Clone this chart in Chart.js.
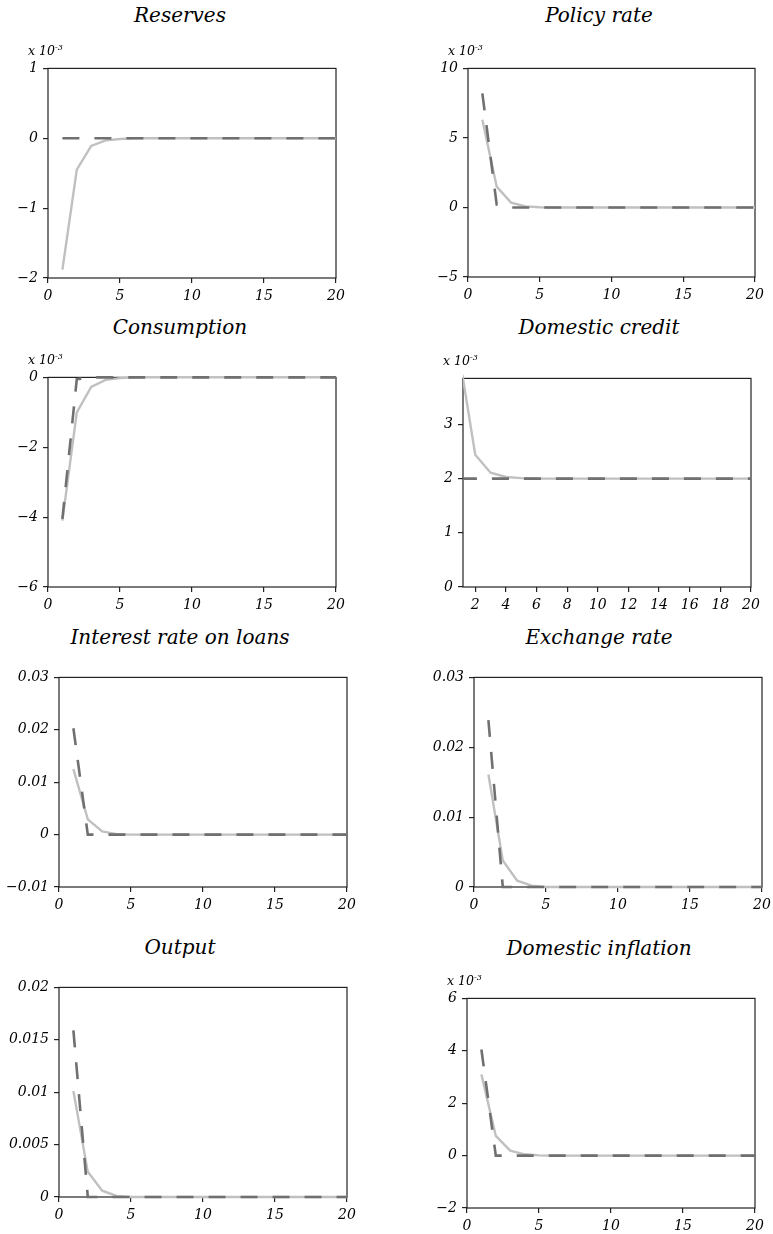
<!DOCTYPE html>
<html>
<head>
<meta charset="utf-8">
<title>Impulse responses</title>
<script src="https://cdn.jsdelivr.net/npm/chart.js@4.4.1/dist/chart.umd.min.js"></script>
<style>
  html, body { margin: 0; padding: 0; background: #fff; }
  body {
    position: relative;
    width: 773px;
    height: 1234px;
    overflow: hidden;
    font-family: "DejaVu Serif", serif;
    font-style: italic;
    color: #000;
  }
  canvas { position: absolute; }
  .title {
    position: absolute;
    width: 320px;
    margin-left: -160px;
    margin-top: -11px;
    text-align: center;
    font-size: 20px;
    line-height: 22px;
    white-space: nowrap;
  }
  .exp {
    position: absolute;
    margin-top: -8px;
    font-size: 12.5px;
    line-height: 16px;
    white-space: nowrap;
  }
  .exp sup { font-size: 8px; vertical-align: 5px; line-height: 0; }
</style>
</head>
<body>
<script>
(function () {
  "use strict";

  // horizon, quarters after the shock
  var periods = [1, 2, 3, 4, 5, 6, 7, 8, 9, 10, 11, 12, 13, 14, 15, 16, 17, 18, 19, 20];

  // values of the x 10^-3 panels are in units of 10^-3
  var reservesSolid = [-1.88, -0.45, -0.11, -0.03, -0.01, 0, 0, 0, 0, 0, 0, 0, 0, 0, 0, 0, 0, 0, 0, 0];
  var reservesDashed = [0, 0, 0, 0, 0, 0, 0, 0, 0, 0, 0, 0, 0, 0, 0, 0, 0, 0, 0, 0];

  var policySolid = [6.3, 1.5, 0.35, 0.08, 0.02, 0, 0, 0, 0, 0, 0, 0, 0, 0, 0, 0, 0, 0, 0, 0];
  var policyDashed = [8.2, 0.2, 0, 0, 0, 0, 0, 0, 0, 0, 0, 0, 0, 0, 0, 0, 0, 0, 0, 0];

  var consumptionSolid = [-4.1, -1.0, -0.27, -0.07, -0.02, 0, 0, 0, 0, 0, 0, 0, 0, 0, 0, 0, 0, 0, 0, 0];
  var consumptionDashed = [-4.05, -0.05, 0, 0, 0, 0, 0, 0, 0, 0, 0, 0, 0, 0, 0, 0, 0, 0, 0, 0];

  var creditSolid = [4.2, 2.44, 2.11, 2.03, 2.01, 2, 2, 2, 2, 2, 2, 2, 2, 2, 2, 2, 2, 2, 2, 2];
  var creditDashed = [2, 2, 2, 2, 2, 2, 2, 2, 2, 2, 2, 2, 2, 2, 2, 2, 2, 2, 2, 2];

  var loansSolid = [0.0125, 0.0029, 0.0006, 0.0001, 0, 0, 0, 0, 0, 0, 0, 0, 0, 0, 0, 0, 0, 0, 0, 0];
  var loansDashed = [0.0203, 0, 0, 0, 0, 0, 0, 0, 0, 0, 0, 0, 0, 0, 0, 0, 0, 0, 0, 0];

  var exchangeSolid = [0.0161, 0.0038, 0.0009, 0.0002, 0, 0, 0, 0, 0, 0, 0, 0, 0, 0, 0, 0, 0, 0, 0, 0];
  var exchangeDashed = [0.0239, 0, 0, 0, 0, 0, 0, 0, 0, 0, 0, 0, 0, 0, 0, 0, 0, 0, 0, 0];

  var outputSolid = [0.0101, 0.0024, 0.0006, 0.0001, 0, 0, 0, 0, 0, 0, 0, 0, 0, 0, 0, 0, 0, 0, 0, 0];
  var outputDashed = [0.0159, 0, 0, 0, 0, 0, 0, 0, 0, 0, 0, 0, 0, 0, 0, 0, 0, 0, 0, 0];

  var inflationSolid = [3.1, 0.75, 0.19, 0.05, 0.01, 0, 0, 0, 0, 0, 0, 0, 0, 0, 0, 0, 0, 0, 0, 0];
  var inflationDashed = [4.05, 0, 0, 0, 0, 0, 0, 0, 0, 0, 0, 0, 0, 0, 0, 0, 0, 0, 0, 0];

  // tick labels
  var horizonTicks = [0, 5, 10, 15, 20];
  var creditHorizonTicks = [2, 4, 6, 8, 10, 12, 14, 16, 18, 20];
  var reservesTicks = [-2, -1, 0, 1];
  var policyTicks = [-5, 0, 5, 10];
  var consumptionTicks = [-6, -4, -2, 0];
  var creditTicks = [0, 1, 2, 3];
  var loansTicks = [-0.01, 0, 0.01, 0.02, 0.03];
  var exchangeTicks = [0, 0.01, 0.02, 0.03];
  var outputTicks = [0, 0.005, 0.01, 0.015, 0.02];
  var inflationTicks = [-2, 0, 2, 4, 6];

  var SOLID_COLOR = "#c0c0c0";
  var DASHED_COLOR = "#707070";
  var AXIS_COLOR = "#222";
  var FONT = "'DejaVu Serif', serif";

  // box = plot area [left, top, right, bottom]; titleAt = title centre
  var panels = [
    { title: "Reserves", solid: reservesSolid, dashed: reservesDashed,
      x: [0, 20], xTicks: horizonTicks, y: [-2, 1], yTicks: reservesTicks,
      exp: true, box: [48, 67, 336, 278], titleAt: [180, 15] },
    { title: "Policy rate", solid: policySolid, dashed: policyDashed,
      x: [0, 20], xTicks: horizonTicks, y: [-5, 10], yTicks: policyTicks,
      exp: true, box: [468, 67, 755, 277], titleAt: [599, 15] },
    { title: "Consumption", solid: consumptionSolid, dashed: consumptionDashed,
      x: [0, 20], xTicks: horizonTicks, y: [-6, 0], yTicks: consumptionTicks,
      exp: true, box: [48, 376, 336, 587], titleAt: [180, 327] },
    { title: "Domestic credit", solid: creditSolid, dashed: creditDashed,
      x: [1.2, 20], xTicks: creditHorizonTicks, y: [0, 3.85], yTicks: creditTicks,
      exp: true, box: [463, 377, 751, 587], titleAt: [599, 327] },
    { title: "Interest rate on loans", solid: loansSolid, dashed: loansDashed,
      x: [0, 20], xTicks: horizonTicks, y: [-0.01, 0.03], yTicks: loansTicks,
      exp: false, box: [59, 676, 347, 887], titleAt: [180, 637] },
    { title: "Exchange rate", solid: exchangeSolid, dashed: exchangeDashed,
      x: [0, 20], xTicks: horizonTicks, y: [0, 0.03], yTicks: exchangeTicks,
      exp: false, box: [474, 676, 762, 887], titleAt: [599, 637] },
    { title: "Output", solid: outputSolid, dashed: outputDashed,
      x: [0, 20], xTicks: horizonTicks, y: [0, 0.02], yTicks: outputTicks,
      exp: false, box: [59, 986, 347, 1197], titleAt: [180, 947] },
    { title: "Domestic inflation", solid: inflationSolid, dashed: inflationDashed,
      x: [0, 20], xTicks: horizonTicks, y: [-2, 6], yTicks: inflationTicks,
      exp: true, box: [467, 997, 755, 1208], titleAt: [599, 948] }
  ];

  // lines may spill a little over the top and bottom edges, not the sides
  var LINE_CLIP = { left: 0, top: 4, right: 0, bottom: 4 };

  function toPoints(values) {
    return values.map(function (v, i) {
      return { x: periods[i], y: v };
    });
  }

  function formatTick(v) {
    return v < 0 ? "\u2212" + String(-v) : String(v);
  }

  function fixedTicks(list) {
    return function (scale) {
      scale.ticks = list.map(function (v) {
        return { value: v };
      });
    };
  }

  // full box around the plot area, drawn under the lines
  var framePlugin = {
    id: "frame",
    beforeDatasetsDraw: function (chart) {
      var a = chart.chartArea;
      var ctx = chart.ctx;
      ctx.save();
      ctx.strokeStyle = AXIS_COLOR;
      ctx.lineWidth = 1.2;
      ctx.strokeRect(a.left, a.top, a.right - a.left, a.bottom - a.top);
      ctx.restore();
    }
  };

  function axisOptions(range, ticks, fit) {
    return {
      type: "linear",
      min: range[0],
      max: range[1],
      afterBuildTicks: fixedTicks(ticks),
      afterFit: fit,
      border: { display: false },
      grid: {
        display: true,
        drawOnChartArea: false,
        drawTicks: true,
        tickLength: 5,
        color: AXIS_COLOR,
        lineWidth: 1.2
      },
      ticks: {
        color: "#000",
        padding: 5,
        maxRotation: 0,
        autoSkip: false,
        font: { family: FONT, style: "italic", size: 14 },
        callback: formatTick
      }
    };
  }

  function addText(cls, html, left, top) {
    var el = document.createElement("div");
    el.className = cls;
    el.innerHTML = html;
    el.style.left = left + "px";
    el.style.top = top + "px";
    document.body.appendChild(el);
  }

  function renderPanel(p) {
    var padL = 70, padT = 12, padR = 16, axisH = 30;
    var w = p.box[2] - p.box[0];
    var h = p.box[3] - p.box[1];

    var canvas = document.createElement("canvas");
    canvas.width = w + padL + padR;
    canvas.height = h + padT + axisH;
    canvas.style.width = canvas.width + "px";
    canvas.style.height = canvas.height + "px";
    canvas.style.left = p.box[0] - padL + "px";
    canvas.style.top = p.box[1] - padT + "px";
    document.body.appendChild(canvas);

    addText("title", p.title, p.titleAt[0], p.titleAt[1]);
    if (p.exp) {
      addText("exp", "x 10<sup>-3</sup>", p.box[0] - 20, p.box[1] - 16);
    }

    new Chart(canvas, {
      type: "line",
      data: {
        datasets: [
          {
            label: "dashed",
            data: toPoints(p.dashed),
            borderColor: DASHED_COLOR,
            borderWidth: 2.6,
            borderDash: [17, 15],
            pointRadius: 0,
            tension: 0,
            fill: false,
            clip: LINE_CLIP
          },
          {
            label: "solid",
            data: toPoints(p.solid),
            borderColor: SOLID_COLOR,
            borderWidth: 2.4,
            pointRadius: 0,
            tension: 0,
            fill: false,
            clip: LINE_CLIP
          }
        ]
      },
      options: {
        responsive: false,
        animation: false,
        devicePixelRatio: 1,
        layout: { padding: { left: 0, top: padT, right: padR, bottom: 0 } },
        plugins: {
          legend: { display: false },
          tooltip: { enabled: false }
        },
        scales: {
          x: axisOptions(p.x, p.xTicks, function (s) { s.height = axisH; }),
          y: axisOptions(p.y, p.yTicks, function (s) { s.width = padL; })
        }
      },
      plugins: [framePlugin]
    });
  }

  panels.forEach(renderPanel);
})();
</script>
</body>
</html>
